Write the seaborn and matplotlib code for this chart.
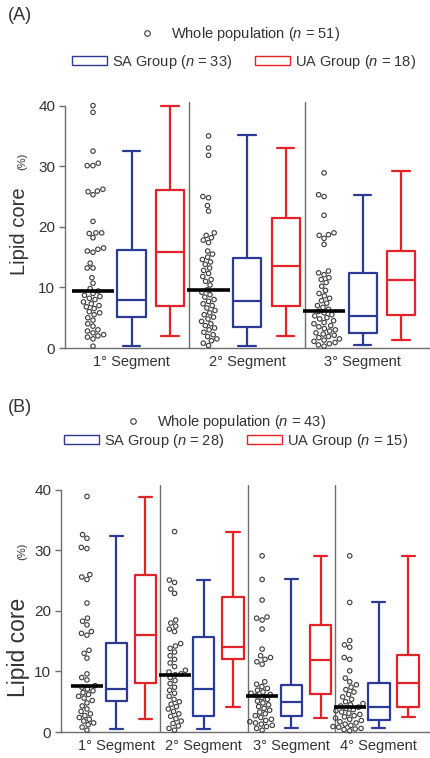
import numpy as np
import pandas as pd
import seaborn as sns
import matplotlib
matplotlib.use("Agg")
import matplotlib.pyplot as plt
from matplotlib.lines import Line2D
from matplotlib.patches import Patch

# colours
BLUE = '#2b3a97'
RED = '#e32329'
AXIS_GRAY = '#6e6e6e'
TEXT = '#333333'

# ---- Panel A data (whole population, n = 51 per segment) ----
a_segments = ['1° Segment', '2° Segment', '3° Segment']
a_whole_seg1 = [40.0, 38.9, 32.5, 30.5, 30.1, 30.1, 26.2, 25.9, 25.8, 25.3, 20.9, 19.0,
                19.0, 18.9, 18.2, 16.5, 16.3, 16.0, 15.8, 14.0, 13.2, 13.2, 11.6, 10.7,
                9.8, 9.4, 9.0, 8.7, 8.5, 8.2, 8.0, 7.6, 7.3, 7.0, 6.8, 6.5, 6.0, 5.8, 5.5,
                5.0, 4.6, 4.0, 3.6, 3.0, 2.8, 2.5, 2.2, 2.0, 1.8, 1.5, 0.3]
a_whole_seg2 = [35.0, 33.0, 31.8, 25.0, 24.8, 23.5, 22.6, 19.0, 18.6, 18.2, 17.8, 17.4,
                16.0, 15.5, 15.0, 14.6, 14.2, 13.8, 13.2, 12.8, 12.3, 11.8, 11.3, 11.0,
                10.4, 9.6, 9.2, 8.8, 8.4, 8.0, 7.7, 7.3, 7.0, 6.6, 6.2, 5.8, 5.5, 5.1, 4.8,
                4.4, 4.0, 3.7, 3.3, 3.0, 2.6, 2.2, 1.9, 1.5, 1.2, 0.8, 0.4]
a_whole_seg3 = [28.9, 25.3, 25.0, 21.9, 19.0, 18.7, 18.6, 18.1, 17.1, 12.7, 12.4, 12.1,
                11.6, 11.3, 10.8, 10.2, 9.5, 9.0, 8.6, 8.2, 7.8, 7.4, 7.0, 6.7, 6.4, 6.05,
                5.8, 5.5, 5.3, 5.0, 4.8, 4.5, 4.2, 4.0, 3.7, 3.5, 3.2, 3.0, 2.8, 2.5, 2.3,
                2.1, 1.9, 1.7, 1.5, 1.3, 1.1, 0.9, 0.7, 0.5, 0.3]
# box stats: (min, q1, median, q3, max)
a_sa_boxes = [(0.3, 5.1, 7.9, 16.2, 32.5), (0.4, 3.5, 7.8, 14.9, 35.1), (0.55, 2.5, 5.2, 12.3, 25.2)]
a_ua_boxes = [(1.9, 7.0, 15.8, 26.1, 40.0), (1.9, 7.0, 13.5, 21.4, 33.0), (1.3, 5.4, 11.2, 16.0, 29.2)]
a_counts = (51, 33, 18)

# ---- Panel B data (whole population, n = 43 per segment) ----
b_segments = ['1° Segment', '2° Segment', '3° Segment', '4° Segment']
b_whole_seg1 = [38.9, 32.6, 32.0, 30.5, 30.3, 26.0, 25.6, 25.2, 21.3, 18.8, 18.3, 17.7,
                16.6, 16.3, 16.0, 13.5, 13.0, 12.2, 9.6, 9.0, 8.6, 7.65, 7.4, 7.1, 6.8, 6.5,
                6.2, 5.9, 5.6, 5.2, 4.8, 4.3, 3.8, 3.4, 3.0, 2.7, 2.4, 2.1, 1.8, 1.5, 1.2,
                0.8, 0.3]
b_whole_seg2 = [33.1, 25.1, 24.7, 23.6, 22.9, 18.5, 18.0, 17.5, 17.0, 16.6, 14.6, 14.2,
                13.8, 13.2, 12.6, 12.0, 11.4, 10.8, 10.2, 9.9, 9.6, 9.45, 9.0, 8.5, 8.0,
                7.4, 6.9, 6.4, 5.9, 5.4, 5.0, 4.6, 4.2, 3.8, 3.4, 3.0, 2.6, 2.2, 1.8, 1.4,
                1.0, 0.6, 0.3]
b_whole_seg3 = [29.1, 25.2, 21.8, 19.0, 18.8, 18.5, 17.0, 13.7, 12.6, 12.3, 12.0, 11.6,
                11.2, 8.3, 7.9, 7.5, 7.2, 6.9, 6.6, 6.4, 6.2, 6.0, 5.7, 5.4, 5.1, 4.8, 4.5,
                4.2, 3.9, 3.6, 3.3, 3.0, 2.7, 2.4, 2.1, 1.9, 1.7, 1.5, 1.3, 1.1, 0.9, 0.6,
                0.3]
b_whole_seg4 = [29.1, 21.4, 15.1, 14.4, 14.0, 12.3, 12.0, 10.1, 8.9, 8.3, 7.8, 7.4, 7.0,
                6.6, 6.2, 5.8, 5.4, 5.0, 4.7, 4.5, 4.3, 4.1, 3.9, 3.7, 3.5, 3.3, 3.1, 2.9,
                2.7, 2.5, 2.3, 2.1, 1.9, 1.7, 1.5, 1.3, 1.1, 0.9, 0.8, 0.6, 0.5, 0.4, 0.2]
b_sa_boxes = [(0.5, 5.2, 7.15, 14.7, 32.4), (0.5, 2.7, 7.1, 15.7, 25.1),
              (0.65, 2.6, 5.0, 7.7, 25.2), (0.65, 2.0, 4.1, 8.1, 21.4)]
b_ua_boxes = [(2.1, 8.1, 16.1, 26.0, 38.9), (4.1, 12.1, 14.0, 22.3, 33.0),
              (2.3, 6.3, 11.9, 17.7, 29.1), (2.5, 4.2, 8.1, 12.7, 29.1)]
b_counts = (43, 28, 15)

W, H = 430, 758


def fx(px):
    return px / W


def fy(py):
    return 1 - py / H


def box_dicts(boxes):
    return [dict(whislo=lo, q1=q1, med=md, q3=q3, whishi=hi, fliers=[])
            for lo, q1, md, q3, hi in boxes]


def draw_panel(ax, segments, wholes, sa_boxes, ua_boxes, xlim, ytop):
    n_seg = len(segments)
    centers = [3 * g for g in range(n_seg)]

    df = pd.concat([pd.DataFrame({'pos': c, 'value': vals})
                    for c, vals in zip(centers, wholes)], ignore_index=True)
    sns.swarmplot(data=df, x='pos', y='value', native_scale=True, ax=ax,
                  size=3.2, color=TEXT, facecolors='none', edgecolor='#3a3a3a',
                  linewidth=0.8, legend=False, warn_thresh=1)

    # whole-population medians
    meds = [np.median(v) for v in wholes]
    ax.hlines(meds, [c - 0.55 for c in centers], [c + 0.55 for c in centers],
              color='black', lw=2.6, zorder=5)

    for boxes, off, col in [(sa_boxes, 1, BLUE), (ua_boxes, 2, RED)]:
        lp = dict(color=col, linewidth=1.6)
        ax.bxp(box_dicts(boxes), positions=[c + off for c in centers], widths=0.73,
               capwidths=0.45, showfliers=False, boxprops=lp, whiskerprops=lp,
               capprops=lp, medianprops=lp, manage_ticks=False)

    for g in range(n_seg - 1):
        ax.axvline(centers[g] + 2.5, color=AXIS_GRAY, lw=1.0, zorder=1)

    ax.set_xlim(*xlim)
    ax.set_ylim(0, ytop)
    ax.set_yticks([0, 10, 20, 30, 40])
    ax.set_xticks([c + 1 for c in centers])
    ax.set_xticklabels(segments)
    ax.set_xlabel('')
    ax.set_ylabel('')
    ax.tick_params(axis='x', length=0, pad=5, labelsize=10.5, labelcolor=TEXT)
    ax.tick_params(axis='y', length=4, width=1, color=AXIS_GRAY, pad=3,
                   labelsize=11, labelcolor=TEXT)
    for side in ['top', 'right']:
        ax.spines[side].set_visible(False)
    for side in ['left', 'bottom']:
        ax.spines[side].set_color(AXIS_GRAY)
        ax.spines[side].set_linewidth(1.0)
    ax.spines['left'].set_bounds(0, 40)
    for coll in ax.collections:
        coll.set_clip_on(False)


def add_legends(fig, counts, y1, cx1, y2, cx2):
    n_all, n_sa, n_ua = counts
    h1 = [Line2D([], [], ls='none', marker='o', mfc='none', mec='#3a3a3a', mew=0.8, ms=4)]
    fig.legend(handles=h1, labels=[f'Whole population ($n$ = {n_all})'], loc='center',
               bbox_to_anchor=(fx(cx1), fy(y1)), frameon=False, fontsize=10.5,
               handlelength=1.0, handletextpad=1.1, labelcolor=TEXT)
    h2 = [Patch(facecolor='none', edgecolor=BLUE, lw=1.0),
          Patch(facecolor='none', edgecolor=RED, lw=1.0)]
    fig.legend(handles=h2, labels=[f'SA Group ($n$ = {n_sa})', f'UA Group ($n$ = {n_ua})'],
               loc='center', ncol=2, bbox_to_anchor=(fx(cx2), fy(y2)), frameon=False,
               fontsize=10.5, handlelength=2.4, handleheight=0.6, handletextpad=0.35,
               columnspacing=1.5, labelcolor=TEXT)


def add_ylabel(fig, x, y_start, y_small, size):
    fig.text(fx(x), fy(y_start), 'Lipid core', rotation=90, rotation_mode='anchor',
             ha='left', va='baseline', fontsize=size, color=TEXT)
    fig.text(fx(x), fy(y_small), '(%)', rotation=90, rotation_mode='anchor',
             ha='left', va='baseline', fontsize=8, color=TEXT)


sns.set_style("ticks")
plt.rcParams['font.family'] = ['Liberation Sans', 'DejaVu Sans']
plt.rcParams['mathtext.fontset'] = 'custom'
plt.rcParams['mathtext.rm'] = 'Liberation Sans'
plt.rcParams['mathtext.it'] = 'Liberation Sans:italic'

fig = plt.figure(figsize=(W / 100, H / 100), dpi=100)

# panel A axes: x from 65 to 430 px, y from 102 to 348 px
ax_a = fig.add_axes([fx(65), fy(348), fx(430 - 65), (348 - 102) / H])
draw_panel(ax_a, a_segments, [a_whole_seg1, a_whole_seg2, a_whole_seg3],
           a_sa_boxes, a_ua_boxes, xlim=(-0.727, 8.75), ytop=40.6)

# panel B axes: x from 61 to 430 px, y from 485 to 732 px
ax_b = fig.add_axes([fx(61), fy(732), fx(430 - 61), (732 - 485) / H])
draw_panel(ax_b, b_segments, [b_whole_seg1, b_whole_seg2, b_whole_seg3, b_whole_seg4],
           b_sa_boxes, b_ua_boxes, xlim=(-0.89, 11.75), ytop=40.8)

fig.text(fx(8), fy(16), '(A)', ha='left', va='center', fontsize=13, color=TEXT)
fig.text(fx(8), fy(407), '(B)', ha='left', va='center', fontsize=13, color=TEXT)

add_legends(fig, a_counts, 34, 240, 62, 244)
add_legends(fig, b_counts, 422, 226, 441, 236)

add_ylabel(fig, 25, 275, 170, 14.5)
add_ylabel(fig, 25, 697, 560, 16.5)

fig.savefig('out.png', dpi=100)
